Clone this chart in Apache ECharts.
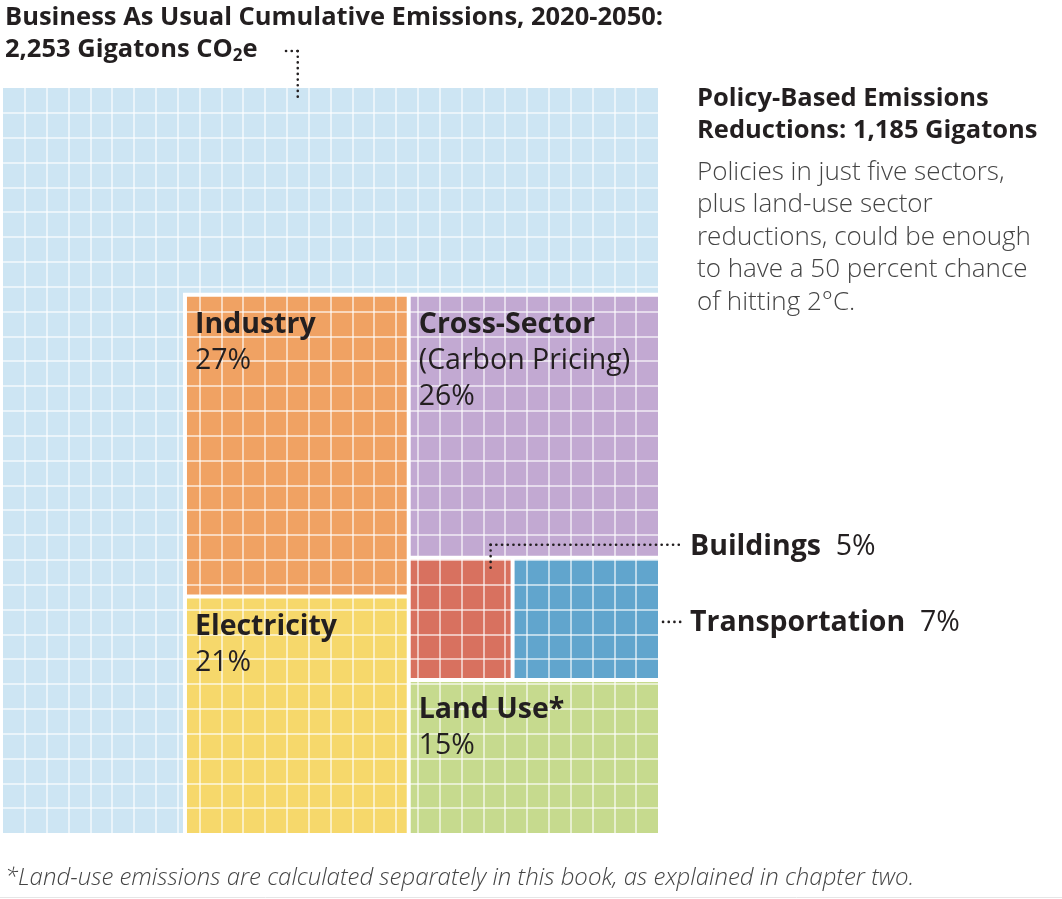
<!DOCTYPE html>
<html><head><meta charset="utf-8">
<script src="https://cdn.jsdelivr.net/npm/echarts@6/dist/echarts.min.js"></script>
<style>html,body{margin:0;padding:0;background:#fff}#c{width:1062px;height:899px}</style>
</head><body><div id="c"></div>
<script>
// ---- data ----
const bauTotal = 2253;          // Gt CO2e, business as usual 2020-2050
const policyTotal = 1185;       // Gt, policy-based reductions
const sectorNames  = ['Industry','Electricity','Cross-Sector','Buildings','Transportation','Land Use*'];
const sectorSubs   = ['', '', '(Carbon Pricing)', '', '', ''];
const sectorShares = [27, 21, 26, 5, 7, 15];   // percent of reductions
const sectorColors = ['#f0a263','#f6d86b','#c2a9d2','#d8715f','#61a5cd','#c6da8e'];
const sectorInside = [true, true, true, false, false, true];
const gridCells = 30;

// ---- layout (computed from the data) ----
const N = gridCells;
const side = N * Math.sqrt(policyTotal / bauTotal);
const x0 = N - side;
const sh = sectorShares;
const total = sh.reduce((a, b) => a + b, 0);
const leftSum = sh[0] + sh[1];
const rightSum = sh[2] + sh[3] + sh[4] + sh[5];
const leftW = side * leftSum / total;
const xr = x0 + leftW;
const rightW = N - xr;
const elecH = side * sh[1] / leftSum;
const landH = side * sh[5] / rightSum;
const rowH = side * (sh[3] + sh[4]) / rightSum;
const buildW = rightW * sh[3] / (sh[3] + sh[4]);
const rects = [
  [x0, elecH, xr, side],                 // Industry
  [x0, 0, xr, elecH],                    // Electricity
  [xr, landH + rowH, N, side],           // Cross-Sector
  [xr, landH, xr + buildW, landH + rowH],// Buildings
  [xr + buildW, landH, N, landH + rowH], // Transportation
  [xr, 0, N, landH]                      // Land Use
];
const rectData = rects.map((r, i) => [r[0], r[1], r[2], r[3], i]);

const FONT = '"Open Sans", "Noto Sans", sans-serif';
const DARK = '#231f20';
const EPS = 1e-6;

// pixel box of the coloured area of a sector, from a coord mapper
function colouredBox(xmin, ymin, xmax, ymax, coord) {
  const tl = coord([xmin, ymax]);
  const br = coord([xmax, ymin]);
  const l = tl[0] + (Math.abs(xmin - x0) < EPS ? 4 : 2);
  const t = tl[1] + (Math.abs(ymax - side) < EPS ? 4 : 2);
  const r = br[0] - (xmax >= N - EPS ? 0 : 2);
  const b = br[1] - (ymin <= EPS ? 0 : 2);
  return {l, t, r, b};
}

function renderItem(params, api) {
  const i = api.value(4);
  const box = colouredBox(api.value(0), api.value(1), api.value(2), api.value(3), api.coord);
  const children = [];
  if (i === 0) {
    const ftl = api.coord([x0, side]);
    const fbr = api.coord([N, 0]);
    children.push({type: 'rect', shape: {x: ftl[0], y: ftl[1], width: fbr[0] - ftl[0], height: fbr[1] - ftl[1]}, style: {fill: '#ffffff'}, z2: 0});
  }
  children.push({type: 'rect', shape: {x: box.l, y: box.t, width: box.r - box.l, height: box.b - box.t}, style: {fill: sectorColors[i]}, z2: 1});
  return {type: 'group', children};
}

const chart = echarts.init(document.getElementById('c'), null, {renderer: 'canvas'});
const axisCommon = {
  type: 'value', min: 0, max: N, interval: 1, z: 10,
  axisLine: {show: false}, axisTick: {show: false}, axisLabel: {show: false},
  splitLine: {show: true, showMinLine: false, showMaxLine: false,
    lineStyle: {color: 'rgba(255,255,255,0.58)', width: 2}}
};
chart.setOption({
  animation: false,
  backgroundColor: '#ffffff',
  grid: {left: 3, right: 404, top: 88, bottom: 66, show: true, backgroundColor: '#cde5f3', borderWidth: 0},
  xAxis: Object.assign({}, axisCommon),
  yAxis: Object.assign({}, axisCommon),
  series: [{type: 'custom', renderItem: renderItem, data: rectData, z: 2, silent: true}]
});

// ---- annotations positioned from the layout ----
const px = (p) => chart.convertToPixel({gridIndex: 0}, p);
const dot = {stroke: DARK, lineWidth: 2.6, lineDash: [0.1, 5.6], lineCap: 'round'};
function dline(x1, y1, x2, y2) {
  return {type: 'line', shape: {x1, y1, x2, y2}, style: Object.assign({}, dot), z: 20, silent: true};
}
const LBL = 28.5;
const richLbl = {
  b: {fontFamily: FONT, fontSize: LBL, fontWeight: 'bold', lineHeight: 36, fill: DARK},
  r: {fontFamily: FONT, fontSize: LBL, fontWeight: 'normal', lineHeight: 36, fill: DARK}
};
const graphics = [];
rects.forEach((rc, i) => {
  if (!sectorInside[i]) return;
  const box = colouredBox(rc[0], rc[1], rc[2], rc[3], px);
  let txt = '{b|' + sectorNames[i] + '}';
  if (sectorSubs[i]) txt += '\n{r|' + sectorSubs[i] + '}';
  txt += '\n{r|' + sectorShares[i] + '%}';
  graphics.push({type: 'text', x: box.l + 8, y: box.t + 10, z: 20, silent: true, style: {text: txt, rich: richLbl}});
});
const bBox = colouredBox(rects[3][0], rects[3][1], rects[3][2], rects[3][3], px);
const tBox = colouredBox(rects[4][0], rects[4][1], rects[4][2], rects[4][3], px);
const bx = bBox.l + (bBox.r - bBox.l) * 0.8;
const by = bBox.t - 15;
const ty = (tBox.t + tBox.b) / 2 + 3;
const bauTop = px([N * 0.45, N]);
const labelX = 690;
graphics.push(
  // title
  {type: 'text', x: 5, y: 2, z: 20, style: {
    text: '{t|Business As Usual Cumulative Emissions, 2020-2050:}\n{t|' + bauTotal.toLocaleString('en-US') + ' Gigatons CO}{s|2}{t|e}',
    rich: {
      t: {fontFamily: FONT, fontSize: 25.5, fontWeight: 'bold', lineHeight: 32, fill: DARK},
      s: {fontFamily: FONT, fontSize: 17, fontWeight: 'bold', lineHeight: 32, fill: DARK, padding: [13, 0, 0, 0]}
    }}},
  dline(286, 51, bauTop[0], 51),
  dline(bauTop[0], 51, bauTop[0], bauTop[1] + 10),
  // right-hand note
  {type: 'text', x: 697, y: 83, z: 20, style: {
    text: 'Policy-Based Emissions\nReductions: ' + policyTotal.toLocaleString('en-US') + ' Gigatons',
    fontFamily: FONT, fontSize: 25.5, fontWeight: 'bold', lineHeight: 32, fill: DARK}},
  {type: 'text', x: 697, y: 156, z: 20, style: {
    text: 'Policies in just five sectors,\nplus land-use sector\nreductions, could be enough\nto have a 50 percent chance\nof hitting 2°C.',
    fontFamily: FONT, fontSize: 26, fontWeight: 300, lineHeight: 32.5, fill: '#444444'}},
  // Buildings leader
  dline(bx, by, labelX - 7, by),
  dline(bx, by, bx, bBox.t + 8),
  {type: 'text', x: labelX, y: by + 2, z: 20, style: {
    text: '{b|' + sectorNames[3] + '}{r|  ' + sectorShares[3] + '%}', verticalAlign: 'middle',
    rich: {b: {fontFamily: FONT, fontSize: LBL, fontWeight: 'bold', fill: DARK}, r: {fontFamily: FONT, fontSize: LBL, fill: DARK}}}},
  // Transportation leader
  dline(tBox.r + 5, ty, labelX - 7, ty),
  {type: 'text', x: labelX, y: ty + 1, z: 20, style: {
    text: '{b|' + sectorNames[4] + '}{r|  ' + sectorShares[4] + '%}', verticalAlign: 'middle',
    rich: {b: {fontFamily: FONT, fontSize: LBL, fontWeight: 'bold', fill: DARK}, r: {fontFamily: FONT, fontSize: LBL, fill: DARK}}}},
  // footnote
  {type: 'text', x: 5, y: 878, z: 20, style: {
    text: '*Land-use emissions are calculated separately in this book, as explained in chapter two.',
    verticalAlign: 'middle',
    fontFamily: FONT, fontSize: 24, fontStyle: 'italic', fontWeight: 300, fill: '#444444'}},
  {type: 'line', shape: {x1: 0, y1: 897.5, x2: 1062, y2: 897.5}, style: {stroke: '#e6e6e6', lineWidth: 1}, z: 1, silent: true}
);
chart.setOption({graphic: graphics});
</script>
</body></html>
